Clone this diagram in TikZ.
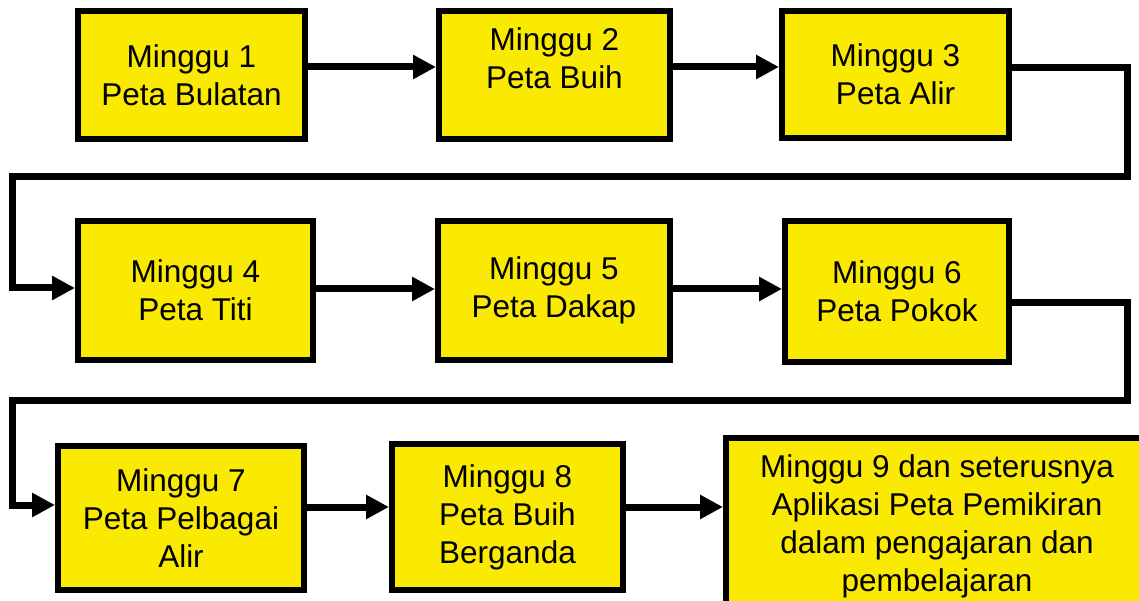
\documentclass[tikz,border=0pt]{standalone}
\usepackage{fontspec}
\setmainfont{Liberation Sans}
\usetikzlibrary{arrows.meta}
\definecolor{petayellow}{RGB}{250,233,0}

\begin{document}
\begin{tikzpicture}[
  x=1pt, y=-1pt,
  minggu/.style={draw, line width=6pt, fill=petayellow, inner sep=0pt, align=center,
    font=\fontsize{31.5}{38}\selectfont},
  arr/.style={-{Triangle[length=23pt, width=23pt]}, line width=7pt}
]
\clip (0,0) rectangle (1139,601);
\node[minggu, minimum width=227pt, minimum height=128pt] (m1) at (191.5,75) {Minggu 1\\Peta Bulatan};
\node[minggu, minimum width=231pt, minimum height=128pt] (m2) at (554.5,75) {Minggu 2\\Peta Buih\\[-5pt]\mbox{}};
\node[minggu, minimum width=227pt, minimum height=127pt] (m3) at (895.5,74.5) {Minggu 3\\Peta Alir};
\node[minggu, minimum width=235pt, minimum height=139pt] (m4) at (195.5,290.5) {Minggu 4\\Peta Titi};
\node[minggu, minimum width=232pt, minimum height=139pt] (m5) at (554,290.5) {Minggu 5\\Peta Dakap};
\node[minggu, minimum width=224pt, minimum height=141pt] (m6) at (897,291.5) {Minggu 6\\Peta Pokok};
\node[minggu, minimum width=246pt, minimum height=144pt] (m7) at (181,518) {Minggu 7\\Peta Pelbagai\\Alir};
\node[minggu, minimum width=231pt, minimum height=146pt] (m8) at (507.5,517) {Minggu 8\\Peta Buih\\Berganda};
\node[minggu, minimum width=422pt, minimum height=177pt] (m9) at (937,526.5) {Minggu 9 dan seterusnya\\Aplikasi Peta Pemikiran\\dalam pengajaran dan\\pembelajaran};
\coordinate (r1) at (1127,177);
\coordinate (l1) at (12,177);
\coordinate (r2) at (1127,400);
\coordinate (l2) at (12,400);
\draw[arr] ([yshift=8pt]m1.east) -- ([yshift=8pt]m2.west);
\draw[arr] ([yshift=8pt]m2.east) -- ([yshift=7.5pt]m3.west);
\draw[arr] ([yshift=7pt]m3.east) -| (r1) -- (l1) |- ([yshift=2.5pt]m4.west);
\draw[arr] ([yshift=1.5pt]m4.east) -- ([yshift=1.5pt]m5.west);
\draw[arr] ([yshift=1.5pt]m5.east) -- ([yshift=2.5pt]m6.west);
\draw[arr] ([yshift=-10.5pt]m6.east) -| (r2) -- (l2) |- ([yshift=13pt]m7.west);
\draw[arr] ([yshift=11pt]m7.east) -- ([yshift=10pt]m8.west);
\draw[arr] ([yshift=10pt]m8.east) -- ([yshift=19.5pt]m9.west);
\end{tikzpicture}
\end{document}
